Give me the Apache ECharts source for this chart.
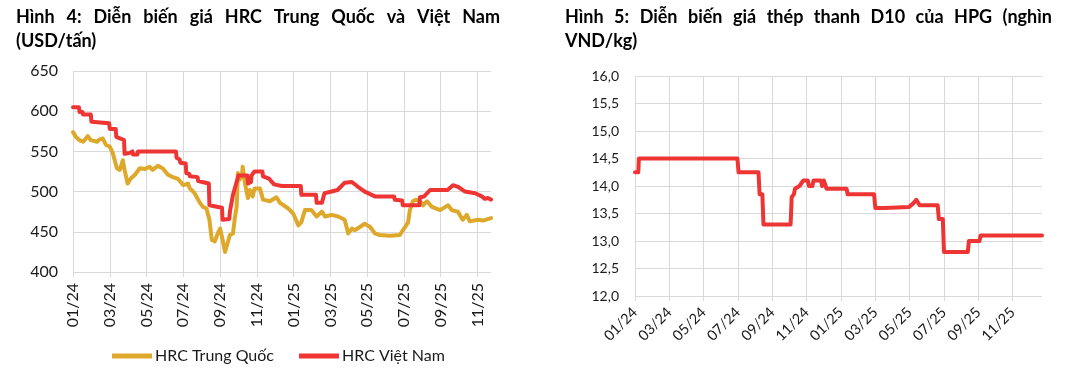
<!DOCTYPE html>
<html><head><meta charset="utf-8">
<script src="https://cdn.jsdelivr.net/npm/echarts@6/dist/echarts.min.js"></script>
<style>html,body{margin:0;padding:0;background:#fff}#c{width:1085px;height:377px}</style>
</head><body><div id="c"></div>
<script>
// ---------- DATA ----------
const tickLabels = ['01/24','03/24','05/24','07/24','09/24','11/24','01/25','03/25','05/25','07/25','09/25','11/25'];

const chinaDates = ['2024-01-01','2024-01-06','2024-01-12','2024-01-18','2024-01-26','2024-01-31','2024-02-10','2024-02-14','2024-02-19','2024-02-24','2024-03-01','2024-03-06','2024-03-13','2024-03-18','2024-03-23','2024-03-26','2024-03-31','2024-04-05','2024-04-12','2024-04-20','2024-04-28','2024-05-06','2024-05-11','2024-05-20','2024-05-28','2024-06-06','2024-06-14','2024-06-22','2024-07-01','2024-07-09','2024-07-12','2024-07-20','2024-07-29','2024-08-03','2024-08-09','2024-08-14','2024-08-18','2024-08-23','2024-08-28','2024-09-01','2024-09-04','2024-09-09','2024-09-14','2024-09-17','2024-09-22','2024-09-25','2024-09-28','2024-09-30','2024-10-03','2024-10-07','2024-10-08','2024-10-12','2024-10-17','2024-10-20','2024-10-25','2024-10-28','2024-11-06','2024-11-11','2024-11-22','2024-12-03','2024-12-09','2024-12-23','2024-12-31','2025-01-09','2025-01-14','2025-01-20','2025-01-31','2025-02-08','2025-02-16','2025-02-21','2025-03-03','2025-03-14','2025-03-25','2025-03-31','2025-04-06','2025-04-11','2025-04-19','2025-04-27','2025-05-06','2025-05-14','2025-05-22','2025-06-08','2025-06-24','2025-07-03','2025-07-08','2025-07-11','2025-07-16','2025-07-21','2025-07-28','2025-08-02','2025-08-09','2025-08-17','2025-08-31','2025-09-13','2025-09-19','2025-09-29','2025-10-07','2025-10-14','2025-10-19','2025-11-02','2025-11-10','2025-11-23'];
const chinaValues = [574,568,564,562,569,564,562,565,566,558,556,548,529,527,539,527,510,516,521,529,528,531,527,532,529,521,518,516,508,510,504,498,486,481,479,465,440,438,448,454,444,425,438,446,448,467,481,523,515,521,531,510,492,502,494,504,504,490,488,493,486,479,473,458,462,477,477,469,475,469,471,469,465,448,454,452,456,460,456,448,446,445,446,456,462,477,488,490,488,483,488,481,477,483,477,475,465,471,463,465,464,467];

const vnDates = ['2024-01-01','2024-01-11','2024-01-12','2024-01-17','2024-01-18','2024-01-31','2024-02-01','2024-02-29','2024-03-01','2024-03-11','2024-03-12','2024-03-19','2024-03-20','2024-03-25','2024-03-26','2024-04-03','2024-04-04','2024-04-08','2024-04-09','2024-04-16','2024-04-17','2024-06-19','2024-06-20','2024-06-25','2024-06-26','2024-07-05','2024-07-06','2024-07-11','2024-07-12','2024-07-25','2024-07-26','2024-08-02','2024-08-03','2024-08-13','2024-08-14','2024-09-04','2024-09-05','2024-09-16','2024-09-17','2024-09-22','2024-10-01','2024-10-16','2024-10-17','2024-10-22','2024-10-23','2024-10-28','2024-11-10','2024-11-11','2024-11-21','2024-11-22','2024-11-29','2024-11-30','2024-12-12','2025-01-13','2025-01-14','2025-02-07','2025-02-08','2025-02-16','2025-02-20','2025-03-13','2025-03-25','2025-04-06','2025-04-16','2025-04-27','2025-05-14','2025-06-15','2025-06-16','2025-06-28','2025-06-29','2025-07-27','2025-07-28','2025-08-04','2025-08-14','2025-09-12','2025-09-21','2025-09-29','2025-10-11','2025-10-28','2025-11-08','2025-11-13','2025-11-18','2025-11-23'];
const vnValues = [605,605,599,599,596,596,587,585,578,578,568,566,564,564,547,548,550,550,546,546,550,550,542,540,536,535,523,522,519,518,513,512,510,510,483,480,465,466,475,496,520,520,510,512,520,525,525,519,516,514,509,508,507,507,496,496,486,486,498,502,511,512,506,500,494,494,490,489,483,483,493,494,502,502,508,506,500,498,494,491,492,490];

const d10Dates = ['2024-01-01','2024-01-07','2024-01-08','2024-06-30','2024-07-02','2024-08-07','2024-08-09','2024-08-14','2024-08-16','2024-10-03','2024-10-05','2024-10-09','2024-10-11','2024-10-19','2024-10-26','2024-11-03','2024-11-05','2024-11-11','2024-11-13','2024-11-26','2024-11-28','2024-12-01','2024-12-06','2025-01-11','2025-01-13','2025-02-27','2025-03-01','2025-03-17','2025-03-19','2025-04-30','2025-05-07','2025-05-13','2025-05-19','2025-06-20','2025-06-22','2025-06-29','2025-07-01','2025-08-13','2025-08-15','2025-09-03','2025-09-05','2025-12-23'];
const d10Values = [14.25,14.25,14.5,14.5,14.25,14.25,13.85,13.85,13.3,13.3,13.8,13.85,13.95,14.0,14.1,14.1,14.0,14.0,14.1,14.1,14.0,14.1,13.95,13.95,13.85,13.85,13.6,13.6,13.62,13.62,13.68,13.75,13.65,13.65,13.4,13.4,12.8,12.8,13.0,13.0,13.1,13.1];

const leftEnd = '2025-11-23';
const rightEnd = '2025-12-23';

const title1Lines = ['Hình 4: Diễn biến giá HRC Trung Quốc và Việt Nam', '(USD/tấn)'];
const title2Lines = ['Hình 5: Diễn biến giá thép thanh D10 của HPG (nghìn', 'VND/kg)'];
const seriesNames = ['HRC Trung Quốc', 'HRC Việt Nam', 'Thép thanh D10'];

// ---------- HELPERS ----------
function monthIndex(s) {
  const [y, m, d] = s.split('-').map(Number);
  const dim = new Date(y, m, 0).getDate();
  return (y - 2024) * 12 + (m - 1) + (d - 1) / dim;
}
function pairs(dates, vals) { return dates.map((d, i) => [monthIndex(d), vals[i]]); }
const tickVals = tickLabels.map((_, i) => i * 2);

const FONT = 'Lato';
const measureCtx = document.createElement('canvas').getContext('2d');
function justified(lines, x, width, tops, size) {
  const els = [];
  const font = 'bold ' + size + 'px ' + FONT;
  measureCtx.font = font;
  lines.forEach((line, li) => {
    const words = line.split(' ');
    const widths = words.map(w => measureCtx.measureText(w).width);
    const total = widths.reduce((a, b) => a + b, 0);
    const isLast = li === lines.length - 1;
    const gap = (!isLast && words.length > 1) ? (width - total) / (words.length - 1) : measureCtx.measureText(' ').width;
    let cx = x;
    words.forEach((w, wi) => {
      els.push({ type: 'text', x: cx, y: tops[li], style: { text: w, fontFamily: FONT, fontWeight: 'bold', fontSize: size, fill: '#000', align: 'left', verticalAlign: 'top' } });
      cx += widths[wi] + gap;
    });
  });
  return els;
}

const gridColor = '#D9D9D9';
function xAxis(gridIndex, end, rotate, margin, fs) {
  return {
    type: 'value', gridIndex, min: 0, max: monthIndex(end), interval: 2,
    axisLine: { show: false },
    axisTick: { show: true, length: 5, lineStyle: { color: gridColor }, customValues: tickVals },
    axisLabel: { customValues: tickVals, rotate, margin, fontFamily: FONT, fontSize: fs, color: '#1a1a1a',
      formatter: v => tickLabels[Math.round(v / 2)] || '' },
    splitLine: { show: true, lineStyle: { color: gridColor, width: 1 } }
  };
}

const chart = echarts.init(document.getElementById('c'), null, { renderer: 'canvas' });
chart.setOption({
  animation: false,
  backgroundColor: '#fff',
  grid: [
    { left: 73, top: 71, width: 418, height: 201 },
    { left: 635, top: 76, width: 407, height: 220 }
  ],
  xAxis: [ xAxis(0, leftEnd, 90, 11, 16), xAxis(1, rightEnd, 45, 14, 14.5) ],
  yAxis: [
    { type: 'value', gridIndex: 0, min: 400, max: 650, interval: 50,
      axisLine: { show: false }, axisTick: { show: false },
      axisLabel: { margin: 15, fontFamily: FONT, fontSize: 16, color: '#1a1a1a' },
      splitLine: { lineStyle: { color: gridColor, width: 1 } } },
    { type: 'value', gridIndex: 1, min: 12, max: 16, interval: 0.5,
      axisLine: { show: false }, axisTick: { show: false },
      axisLabel: { margin: 16, fontFamily: FONT, fontSize: 14, color: '#1a1a1a',
        formatter: v => v.toFixed(1).replace('.', ',') },
      splitLine: { lineStyle: { color: gridColor, width: 1 } } }
  ],
  legend: {
    data: [seriesNames[0], seriesNames[1]], left: 107, top: 343,
    icon: 'rect', itemWidth: 40, itemHeight: 5, itemGap: 25,
    textStyle: { fontFamily: FONT, fontSize: 16, color: '#1a1a1a', padding: [0, 0, 0, -2] }
  },
  series: [
    { name: seriesNames[0], type: 'line', xAxisIndex: 0, yAxisIndex: 0, data: pairs(chinaDates, chinaValues),
      showSymbol: false, symbol: 'none', color: '#DEA82B',
      lineStyle: { width: 4, color: '#DEA82B', join: 'round', cap: 'round' } },
    { name: seriesNames[1], type: 'line', xAxisIndex: 0, yAxisIndex: 0, data: pairs(vnDates, vnValues),
      showSymbol: false, symbol: 'none', color: '#EE3534',
      lineStyle: { width: 4, color: '#EE3534', join: 'round', cap: 'round' } },
    { name: seriesNames[2], type: 'line', xAxisIndex: 1, yAxisIndex: 1, data: pairs(d10Dates, d10Values),
      showSymbol: false, symbol: 'none', color: '#EE3534',
      lineStyle: { width: 4, color: '#EE3534', join: 'round', cap: 'round' } }
  ],
  graphic: justified(title1Lines, 16, 484, [8, 32], 18).concat(justified(title2Lines, 565, 487, [8, 32], 18))
});
</script>
</body></html>
